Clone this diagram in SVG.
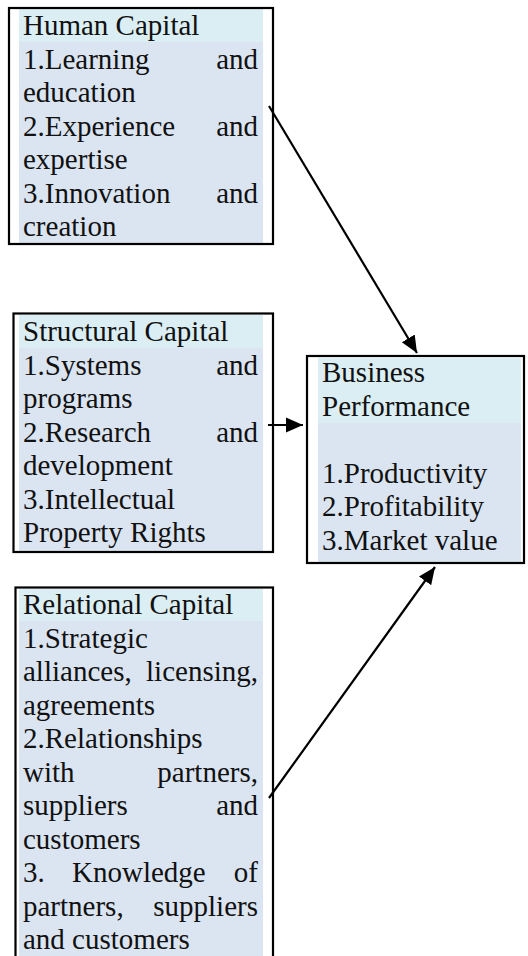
<svg xmlns="http://www.w3.org/2000/svg" width="528" height="956" viewBox="0 0 528 956">
<style>
.t{font-family:"Liberation Serif","Times New Roman",serif;font-size:29px;fill:#111}
.e{text-anchor:end}
.hd{fill:#DAEEF3}
.bd{fill:#DBE5F1}
.bx{fill:none;stroke:#000;stroke-width:2.2}
.cn{stroke:#000;stroke-width:2.2;fill:none}
</style>
<defs>
<marker id="ah" markerUnits="userSpaceOnUse" markerWidth="19" markerHeight="16" refX="17" refY="8" orient="auto">
<path d="M0,0.5 L17,8 L0,15.5 Z" fill="#000"/>
</marker>
</defs>
<rect width="528" height="956" fill="#fff"/>
<g id="human">
<rect class="hd" x="19" y="9" width="244" height="33"/>
<rect class="bd" x="19" y="42" width="244" height="201"/>
<rect class="bx" x="9" y="8" width="264" height="236"/>
<text class="t" x="23" y="35">Human Capital</text>
<text class="t" x="23" y="68.5">1.Learning</text><text class="t e" x="258" y="68.5">and</text>
<text class="t" x="23" y="102">education</text>
<text class="t" x="23" y="135.5">2.Experience</text><text class="t e" x="258" y="135.5">and</text>
<text class="t" x="23" y="169">expertise</text>
<text class="t" x="23" y="202.5">3.Innovation</text><text class="t e" x="258" y="202.5">and</text>
<text class="t" x="23" y="236">creation</text>
</g>
<g id="structural">
<rect class="hd" x="19" y="315" width="244" height="33"/>
<rect class="bd" x="19" y="348" width="244" height="203"/>
<rect class="bx" x="13.5" y="313.5" width="259.5" height="238.5"/>
<text class="t" x="23" y="341">Structural Capital</text>
<text class="t" x="23" y="374.5">1.Systems</text><text class="t e" x="258" y="374.5">and</text>
<text class="t" x="23" y="408">programs</text>
<text class="t" x="23" y="441.5">2.Research</text><text class="t e" x="258" y="441.5">and</text>
<text class="t" x="23" y="475">development</text>
<text class="t" x="23" y="508.5">3.Intellectual</text>
<text class="t" x="23" y="542">Property Rights</text>
</g>
<g id="relational">
<rect class="hd" x="19" y="589" width="244" height="32"/>
<rect class="bd" x="19" y="621" width="244" height="340"/>
<rect class="bx" x="15.5" y="587.5" width="257.5" height="380"/>
<text class="t" x="23" y="614">Relational Capital</text>
<text class="t" x="23" y="647.5">1.Strategic</text>
<text class="t" x="23" y="681">alliances,</text><text class="t e" x="258" y="681">licensing,</text>
<text class="t" x="23" y="714.5">agreements</text>
<text class="t" x="23" y="748">2.Relationships</text>
<text class="t" x="23" y="781.5">with</text><text class="t e" x="258" y="781.5">partners,</text>
<text class="t" x="23" y="815">suppliers</text><text class="t e" x="258" y="815">and</text>
<text class="t" x="23" y="848.5">customers</text>
<text class="t" x="23" y="882">3.</text><text class="t" x="72" y="882">Knowledge</text><text class="t e" x="258" y="882">of</text>
<text class="t" x="23" y="915.5">partners,</text><text class="t e" x="258" y="915.5">suppliers</text>
<text class="t" x="23" y="949">and customers</text>
</g>
<g id="business">
<rect class="hd" x="318" y="358" width="203" height="65"/>
<rect class="bd" x="318" y="423" width="203" height="139"/>
<rect class="bx" x="307" y="356" width="217" height="207"/>
<text class="t" x="322" y="382">Business</text>
<text class="t" x="322" y="415.5">Performance</text>
<text class="t" x="322" y="482.5">1.Productivity</text>
<text class="t" x="322" y="516">2.Profitability</text>
<text class="t" x="322" y="549.5">3.Market value</text>
</g>
<g id="connectors">
<line class="cn" x1="269" y1="106" x2="417" y2="353" marker-end="url(#ah)"/>
<line class="cn" x1="268" y1="425" x2="303" y2="425" marker-end="url(#ah)"/>
<line class="cn" x1="269" y1="798" x2="435" y2="567" marker-end="url(#ah)"/>
</g>
</svg>
